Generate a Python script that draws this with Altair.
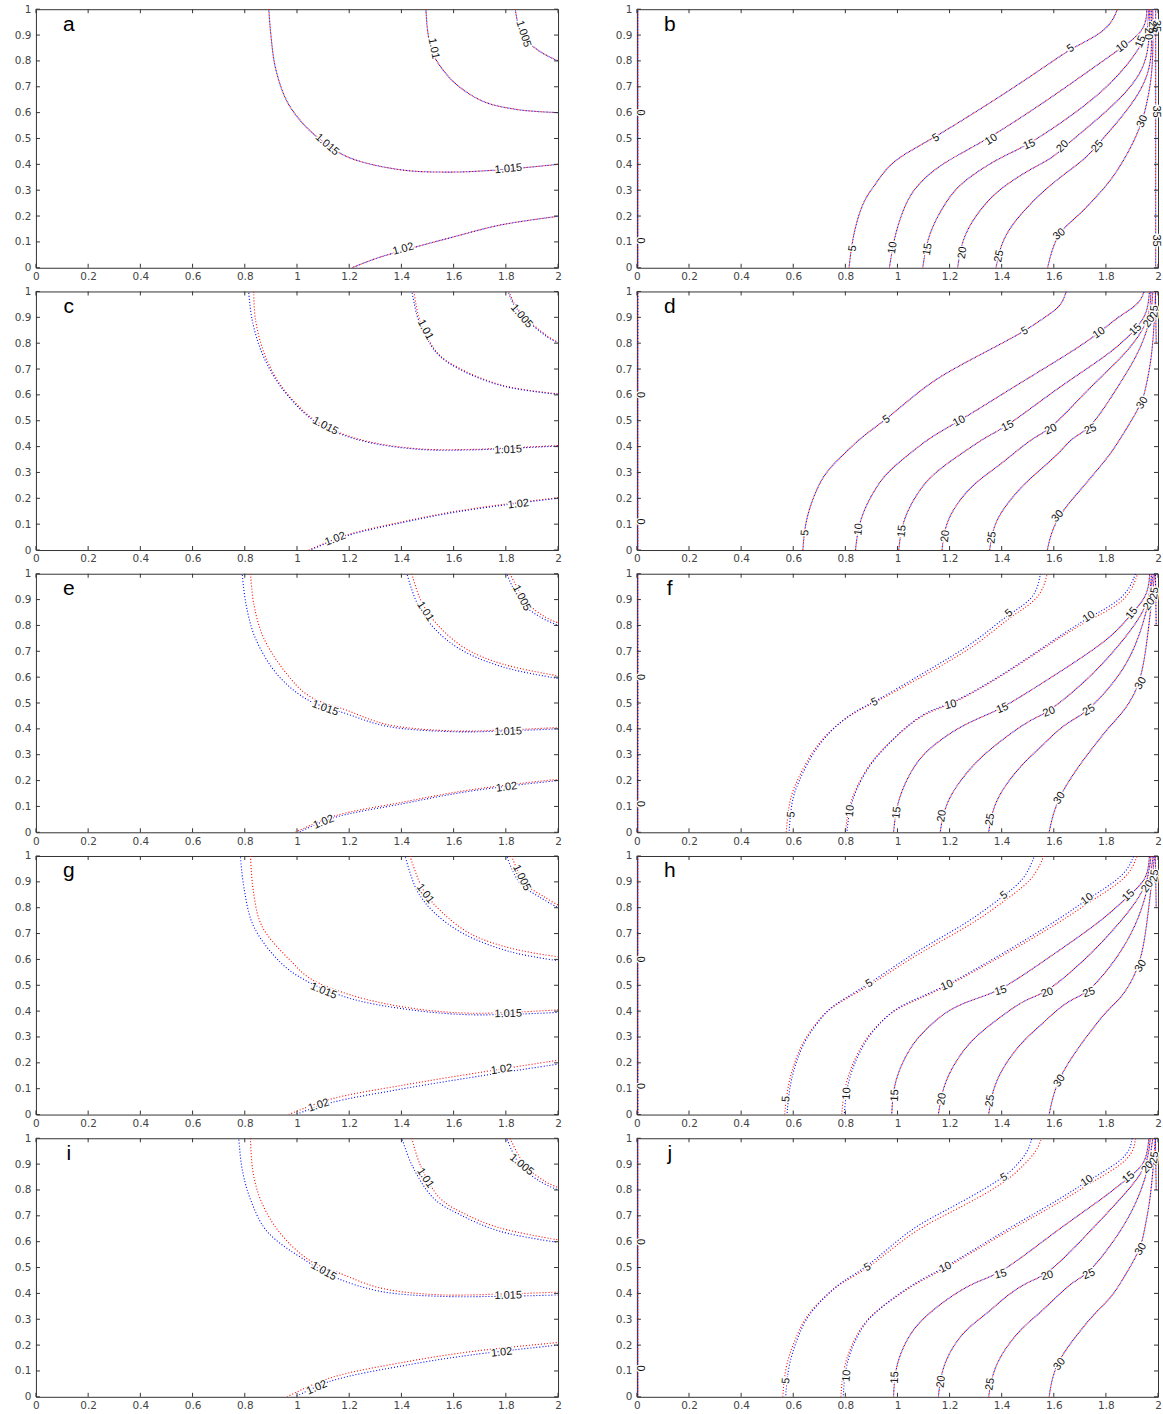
import math
import altair as alt
import pandas as pd

# ---------------------------------------------------------------------------
# Axis ticks shared by every panel
# ---------------------------------------------------------------------------
X_TICKS = [0, 0.2, 0.4, 0.6, 0.8, 1.0, 1.2, 1.4, 1.6, 1.8, 2.0]
Y_TICKS = [0, 0.1, 0.2, 0.3, 0.4, 0.5, 0.6, 0.7, 0.8, 0.9, 1.0]

# ---------------------------------------------------------------------------
# Left column: contour levels 1.005 ... 1.02  (points are (x, y))
# ---------------------------------------------------------------------------
a_blue = {
    "1.015": [(0.892, 1.0), (0.900, 0.90), (0.918, 0.771), (0.962, 0.643), (1.03, 0.55), (1.115, 0.476),
              (1.205, 0.424), (1.396, 0.379), (1.587, 0.370), (1.778, 0.379), (2.0, 0.40)],
    "1.01": [(1.494, 1.0), (1.500, 0.92), (1.517, 0.836), (1.555, 0.771), (1.613, 0.707), (1.714, 0.643),
             (1.842, 0.612), (2.0, 0.60)],
    "1.005": [(1.836, 1.0), (1.845, 0.95), (1.861, 0.90), (1.931, 0.836), (2.0, 0.80)],
    "1.02": [(1.211, 0.0), (1.30, 0.035), (1.396, 0.064), (1.587, 0.116), (1.778, 0.165), (2.0, 0.199)],
}
a_red = a_blue
a_labels = [("1.015", 1.115, 0.476), ("1.015", 1.81, 0.382), ("1.01", 1.523, 0.848),
            ("1.005", 1.867, 0.905), ("1.02", 1.407, 0.072)]

c_blue = {
    "1.015": [(0.815, 1.0), (0.828, 0.891), (0.866, 0.762), (0.936, 0.634), (1.057, 0.505), (1.153, 0.454),
              (1.280, 0.415), (1.472, 0.389), (1.663, 0.387), (1.790, 0.392), (2.0, 0.402)],
    "1.01": [(1.440, 1.0), (1.450, 0.95), (1.465, 0.891), (1.535, 0.762), (1.625, 0.698), (1.790, 0.634),
             (2.0, 0.602)],
    "1.005": [(1.809, 1.0), (1.830, 0.95), (1.880, 0.891), (1.956, 0.826), (2.0, 0.801)],
    "1.02": [(1.051, 0.0), (1.191, 0.055), (1.408, 0.107), (1.599, 0.145), (1.816, 0.177), (2.0, 0.20)],
}
c_red = {
    "1.015": [(0.834, 1.0), (0.841, 0.891), (0.874, 0.762), (0.940, 0.634), (1.060, 0.508), (1.155, 0.457),
              (1.280, 0.418), (1.472, 0.391), (1.663, 0.389), (1.790, 0.394), (2.0, 0.404)],
    "1.01": [(1.448, 1.0), (1.456, 0.95), (1.470, 0.891), (1.538, 0.762), (1.628, 0.700), (1.790, 0.636),
             (2.0, 0.604)],
    "1.005": [(1.812, 1.0), (1.834, 0.95), (1.884, 0.891), (1.958, 0.828), (2.0, 0.803)],
    "1.02": [(1.045, 0.0), (1.191, 0.058), (1.408, 0.110), (1.599, 0.148), (1.816, 0.180), (2.0, 0.202)],
}
c_labels = [("1.015", 1.108, 0.479), ("1.015", 1.809, 0.387), ("1.01", 1.491, 0.852),
            ("1.005", 1.860, 0.904), ("1.02", 1.147, 0.042), ("1.02", 1.848, 0.177)]

e_blue = {
    "1.015": [(0.790, 1.0), (0.805, 0.88), (0.841, 0.75), (0.924, 0.611), (1.038, 0.514), (1.191, 0.458),
              (1.344, 0.410), (1.599, 0.389), (1.80, 0.392), (2.0, 0.40)],
    "1.01": [(1.421, 1.0), (1.459, 0.889), (1.523, 0.792), (1.625, 0.708), (1.790, 0.639), (2.0, 0.595)],
    "1.005": [(1.803, 1.0), (1.860, 0.889), (1.931, 0.833), (2.0, 0.80)],
    "1.02": [(1.006, 0.0), (1.140, 0.056), (1.408, 0.111), (1.625, 0.153), (1.829, 0.181), (2.0, 0.20)],
}
e_red = {
    "1.015": [(0.822, 1.0), (0.835, 0.88), (0.873, 0.75), (0.962, 0.611), (1.045, 0.528), (1.191, 0.472),
              (1.344, 0.417), (1.599, 0.392), (1.80, 0.396), (2.0, 0.405)],
    "1.01": [(1.440, 1.0), (1.478, 0.889), (1.548, 0.792), (1.650, 0.708), (1.790, 0.650), (2.0, 0.605)],
    "1.005": [(1.816, 1.0), (1.880, 0.889), (1.950, 0.833), (2.0, 0.81)],
    "1.02": [(0.994, 0.0), (1.140, 0.062), (1.408, 0.117), (1.625, 0.158), (1.829, 0.186), (2.0, 0.205)],
}
e_labels = [("1.015", 1.108, 0.479), ("1.015", 1.809, 0.389), ("1.01", 1.491, 0.854),
            ("1.005", 1.860, 0.906), ("1.02", 1.102, 0.039), ("1.02", 1.803, 0.174)]

g_blue = {
    "1.015": [(0.783, 1.0), (0.798, 0.87), (0.834, 0.728), (0.936, 0.589), (1.032, 0.519), (1.204, 0.449),
              (1.421, 0.407), (1.663, 0.386), (2.0, 0.395)],
    "1.01": [(1.414, 1.0), (1.459, 0.868), (1.523, 0.784), (1.637, 0.700), (1.816, 0.630), (2.0, 0.595)],
    "1.005": [(1.803, 1.0), (1.854, 0.895), (1.931, 0.840), (2.0, 0.80)],
    "1.02": [(0.994, 0.0), (1.127, 0.045), (1.408, 0.100), (1.701, 0.149), (2.0, 0.195)],
}
g_red = {
    "1.015": [(0.822, 1.0), (0.832, 0.87), (0.866, 0.728), (0.981, 0.589), (1.051, 0.526), (1.204, 0.463),
              (1.421, 0.414), (1.663, 0.392), (2.0, 0.405)],
    "1.01": [(1.433, 1.0), (1.484, 0.868), (1.554, 0.784), (1.663, 0.700), (1.816, 0.644), (2.0, 0.61)],
    "1.005": [(1.822, 1.0), (1.873, 0.895), (1.950, 0.840), (2.0, 0.81)],
    "1.02": [(0.968, 0.0), (1.127, 0.059), (1.408, 0.114), (1.701, 0.163), (2.0, 0.21)],
}
g_labels = [("1.015", 1.102, 0.477), ("1.015", 1.809, 0.389), ("1.01", 1.491, 0.854),
            ("1.005", 1.860, 0.916), ("1.02", 1.083, 0.035), ("1.02", 1.784, 0.174)]

i_blue = {
    "1.015": [(0.777, 1.0), (0.790, 0.88), (0.822, 0.763), (0.885, 0.640), (1.038, 0.524), (1.153, 0.459),
              (1.319, 0.408), (1.535, 0.389), (1.80, 0.389), (2.0, 0.394)],
    "1.01": [(1.402, 1.0), (1.440, 0.897), (1.523, 0.768), (1.625, 0.704), (1.778, 0.640), (2.0, 0.597)],
    "1.005": [(1.803, 1.0), (1.854, 0.897), (1.931, 0.833), (2.0, 0.80)],
    "1.02": [(0.994, 0.0), (1.127, 0.060), (1.433, 0.125), (1.676, 0.163), (2.0, 0.20)],
}
i_red = {
    "1.015": [(0.822, 1.0), (0.830, 0.88), (0.860, 0.763), (0.930, 0.640), (1.045, 0.530), (1.178, 0.472),
              (1.319, 0.421), (1.535, 0.395), (1.80, 0.398), (2.0, 0.405)],
    "1.01": [(1.440, 1.0), (1.472, 0.897), (1.548, 0.768), (1.650, 0.704), (1.778, 0.653), (2.0, 0.607)],
    "1.005": [(1.816, 1.0), (1.873, 0.897), (1.950, 0.833), (2.0, 0.81)],
    "1.02": [(0.962, 0.0), (1.127, 0.073), (1.433, 0.138), (1.676, 0.176), (2.0, 0.21)],
}
i_labels = [("1.015", 1.102, 0.485), ("1.015", 1.809, 0.391), ("1.01", 1.491, 0.846),
            ("1.005", 1.860, 0.897), ("1.02", 1.076, 0.035), ("1.02", 1.784, 0.171)]

# ---------------------------------------------------------------------------
# Right column: contour levels 0 ... 35
# ---------------------------------------------------------------------------
b_blue = {
    "0": [(0.004, 0.0), (0.004, 1.0)],
    "5": [(0.814, 0.0), (0.829, 0.129), (0.867, 0.257), (0.906, 0.309), (0.957, 0.386), (1.02, 0.437),
          (1.138, 0.501), (1.365, 0.643), (1.557, 0.771), (1.665, 0.848), (1.774, 0.900), (1.825, 0.951),
          (1.844, 1.0)],
    "10": [(0.969, 0.0), (0.989, 0.129), (1.033, 0.257), (1.078, 0.322), (1.148, 0.386), (1.238, 0.440),
           (1.352, 0.501), (1.569, 0.643), (1.748, 0.771), (1.857, 0.848), (1.953, 0.919), (1.957, 1.0)],
    "15": [(1.097, 0.0), (1.116, 0.129), (1.186, 0.257), (1.238, 0.322), (1.327, 0.386), (1.416, 0.437),
           (1.506, 0.476), (1.748, 0.643), (1.875, 0.771), (1.940, 0.868), (1.962, 0.92), (1.963, 1.0)],
    "20": [(1.231, 0.0), (1.250, 0.129), (1.340, 0.257), (1.416, 0.322), (1.518, 0.386), (1.595, 0.424),
           (1.640, 0.469), (1.851, 0.643), (1.953, 0.771), (1.968, 0.90), (1.968, 1.0)],
    "25": [(1.378, 0.0), (1.404, 0.129), (1.518, 0.257), (1.589, 0.322), (1.672, 0.386), (1.723, 0.424),
           (1.768, 0.476), (1.914, 0.643), (1.975, 0.771), (1.975, 0.90), (1.974, 1.0)],
    "30": [(1.576, 0.0), (1.608, 0.129), (1.685, 0.193), (1.748, 0.257), (1.806, 0.322), (1.851, 0.386),
           (1.902, 0.476), (1.940, 0.566), (1.959, 0.643), (1.982, 0.771), (1.980, 1.0)],
    "35": [(1.991, 0.0), (1.991, 1.0)],
}
b_red = b_blue
b_labels = [("0", 0.012, 0.60), ("0", 0.012, 0.105),
            ("5", 0.829, 0.075), ("10", 0.982, 0.077), ("15", 1.116, 0.071), ("20", 1.250, 0.058),
            ("25", 1.391, 0.045), ("30", 1.621, 0.129),
            ("5", 1.148, 0.501), ("10", 1.360, 0.495), ("15", 1.506, 0.476), ("20", 1.634, 0.469),
            ("25", 1.768, 0.469), ("30", 1.940, 0.566),
            ("5", 1.665, 0.848), ("10", 1.863, 0.855), ("15", 1.934, 0.874), ("20", 1.962, 0.905),
            ("25", 1.977, 0.93), ("35", 1.991, 0.935), ("35", 1.991, 0.604), ("35", 1.991, 0.105)]

d_blue = {
    "0": [(0.004, 0.0), (0.004, 1.0)],
    "5": [(0.637, 0.0), (0.646, 0.118), (0.693, 0.247), (0.733, 0.311), (0.799, 0.376), (0.865, 0.440),
          (0.958, 0.505), (1.104, 0.633), (1.210, 0.698), (1.330, 0.762), (1.489, 0.846), (1.569, 0.903),
          (1.628, 0.942), (1.648, 1.0)],
    "10": [(0.839, 0.0), (0.852, 0.118), (0.918, 0.247), (0.971, 0.311), (1.051, 0.376), (1.131, 0.440),
           (1.237, 0.498), (1.449, 0.633), (1.662, 0.762), (1.774, 0.839), (1.847, 0.903), (1.927, 0.949),
           (1.947, 1.0)],
    "15": [(1.005, 0.0), (1.018, 0.118), (1.091, 0.247), (1.157, 0.311), (1.250, 0.376), (1.343, 0.440),
           (1.423, 0.479), (1.622, 0.633), (1.821, 0.762), (1.914, 0.852), (1.960, 0.916), (1.967, 1.0)],
    "20": [(1.171, 0.0), (1.184, 0.118), (1.277, 0.247), (1.370, 0.311), (1.449, 0.376), (1.529, 0.440),
           (1.589, 0.466), (1.741, 0.633), (1.881, 0.762), (1.967, 0.884), (1.973, 1.0)],
    "25": [(1.354, 0.0), (1.370, 0.118), (1.476, 0.247), (1.549, 0.311), (1.622, 0.376), (1.675, 0.440),
           (1.741, 0.466), (1.847, 0.633), (1.927, 0.762), (1.973, 0.891), (1.980, 1.0)],
    "30": [(1.575, 0.0), (1.602, 0.118), (1.715, 0.247), (1.768, 0.311), (1.821, 0.376), (1.861, 0.440),
           (1.940, 0.569), (1.954, 0.633), (1.980, 0.762), (1.991, 1.0)],
    "35": [(1.993, 0.80), (1.990, 1.0)],
}
d_red = d_blue
d_labels = [("0", 0.012, 0.60), ("0", 0.012, 0.11),
            ("5", 0.646, 0.067), ("10", 0.852, 0.080), ("15", 1.018, 0.073), ("20", 1.184, 0.054),
            ("25", 1.363, 0.048), ("30", 1.615, 0.131),
            ("5", 0.958, 0.505), ("10", 1.237, 0.498), ("15", 1.423, 0.479), ("20", 1.589, 0.466),
            ("25", 1.741, 0.466), ("30", 1.940, 0.569),
            ("5", 1.489, 0.846), ("10", 1.774, 0.839), ("15", 1.914, 0.852), ("20", 1.967, 0.884),
            ("25", 1.987, 0.923)]

f_blue = {
    "0": [(0.004, 0.0), (0.004, 1.0)],
    "5": [(0.584, 0.0), (0.593, 0.125), (0.620, 0.194), (0.653, 0.264), (0.693, 0.333), (0.753, 0.403),
          (0.839, 0.472), (0.912, 0.503), (1.091, 0.611), (1.210, 0.681), (1.316, 0.75), (1.429, 0.847),
          (1.529, 0.903), (1.549, 1.0)],
    "10": [(0.806, 0.0), (0.819, 0.125), (0.892, 0.264), (0.958, 0.333), (1.025, 0.403), (1.117, 0.472),
           (1.204, 0.493), (1.409, 0.611), (1.609, 0.75), (1.735, 0.833), (1.874, 0.903), (1.914, 1.0)],
    "15": [(0.985, 0.0), (0.998, 0.125), (1.064, 0.264), (1.131, 0.333), (1.230, 0.403), (1.317, 0.444),
           (1.403, 0.479), (1.609, 0.611), (1.821, 0.75), (1.900, 0.847), (1.962, 0.917), (1.968, 1.0)],
    "20": [(1.164, 0.0), (1.184, 0.125), (1.290, 0.264), (1.370, 0.333), (1.462, 0.403), (1.529, 0.444),
           (1.582, 0.465), (1.754, 0.611), (1.874, 0.75), (1.967, 0.882), (1.975, 1.0)],
    "25": [(1.350, 0.0), (1.370, 0.125), (1.476, 0.264), (1.555, 0.333), (1.622, 0.403), (1.688, 0.444),
           (1.735, 0.472), (1.861, 0.611), (1.927, 0.75), (1.965, 0.889), (1.982, 1.0)],
    "30": [(1.582, 0.0), (1.609, 0.125), (1.701, 0.264), (1.754, 0.333), (1.808, 0.403), (1.874, 0.472),
           (1.934, 0.576), (1.960, 0.75), (1.987, 1.0)],
    "35": [(1.993, 0.80), (1.990, 1.0)],
}
f_red = dict(f_blue)
f_red["5"] = [(0.573, 0.0), (0.584, 0.125), (0.612, 0.194), (0.646, 0.264), (0.688, 0.333), (0.750, 0.403),
              (0.839, 0.468), (0.912, 0.500), (1.100, 0.605), (1.222, 0.675), (1.330, 0.745), (1.440, 0.840),
              (1.549, 0.903), (1.575, 1.0)]
f_red["10"] = [(0.800, 0.0), (0.815, 0.125), (0.890, 0.264), (0.955, 0.333), (1.025, 0.400), (1.117, 0.468),
               (1.204, 0.490), (1.409, 0.608), (1.609, 0.745), (1.740, 0.825), (1.885, 0.895), (1.922, 1.0)]
f_labels = [("0", 0.012, 0.60), ("0", 0.012, 0.11),
            ("5", 0.593, 0.069), ("10", 0.819, 0.083), ("15", 0.998, 0.076), ("20", 1.171, 0.0625),
            ("25", 1.356, 0.049), ("30", 1.622, 0.132),
            ("5", 0.912, 0.503), ("10", 1.204, 0.493), ("15", 1.403, 0.479), ("20", 1.582, 0.465),
            ("25", 1.735, 0.472), ("30", 1.934, 0.576),
            ("5", 1.429, 0.847), ("10", 1.735, 0.833), ("15", 1.900, 0.847), ("20", 1.967, 0.882),
            ("25", 1.987, 0.924)]

h_blue = {
    "0": [(0.004, 0.0), (0.004, 1.0)],
    "5": [(0.576, 0.0), (0.587, 0.130), (0.633, 0.269), (0.680, 0.338), (0.733, 0.408), (0.799, 0.450),
          (0.892, 0.506), (1.051, 0.617), (1.171, 0.687), (1.290, 0.756), (1.409, 0.847), (1.489, 0.909),
          (1.526, 1.0)],
    "10": [(0.796, 0.0), (0.806, 0.130), (0.865, 0.269), (0.918, 0.338), (0.985, 0.408), (1.078, 0.450),
           (1.190, 0.499), (1.396, 0.617), (1.622, 0.756), (1.728, 0.833), (1.874, 0.923), (1.907, 1.0)],
    "15": [(0.978, 0.0), (0.985, 0.130), (1.051, 0.269), (1.117, 0.338), (1.197, 0.408), (1.303, 0.450),
           (1.396, 0.478), (1.595, 0.617), (1.794, 0.756), (1.887, 0.847), (1.960, 0.909), (1.967, 1.0)],
    "20": [(1.157, 0.0), (1.177, 0.130), (1.263, 0.269), (1.343, 0.338), (1.436, 0.408), (1.502, 0.450),
           (1.575, 0.471), (1.741, 0.617), (1.867, 0.756), (1.960, 0.882), (1.973, 1.0)],
    "25": [(1.350, 0.0), (1.370, 0.130), (1.463, 0.269), (1.542, 0.338), (1.615, 0.408), (1.675, 0.450),
           (1.735, 0.471), (1.854, 0.617), (1.927, 0.756), (1.965, 0.89), (1.982, 1.0)],
    "30": [(1.582, 0.0), (1.609, 0.130), (1.701, 0.269), (1.754, 0.338), (1.808, 0.408), (1.861, 0.450),
           (1.934, 0.575), (1.960, 0.756), (1.987, 1.0)],
    "35": [(1.993, 0.80), (1.990, 1.0)],
}
h_red = dict(h_blue)
h_red["5"] = [(0.567, 0.0), (0.580, 0.130), (0.628, 0.269), (0.676, 0.338), (0.731, 0.405), (0.799, 0.446),
              (0.895, 0.500), (1.071, 0.617), (1.197, 0.687), (1.317, 0.756), (1.425, 0.838), (1.522, 0.909),
              (1.562, 1.0)]
h_red["10"] = [(0.786, 0.0), (0.798, 0.130), (0.860, 0.269), (0.914, 0.338), (0.985, 0.404), (1.078, 0.446),
               (1.190, 0.495), (1.400, 0.612), (1.635, 0.750), (1.740, 0.825), (1.887, 0.915), (1.920, 1.0)]
h_labels = [("0", 0.012, 0.60), ("0", 0.012, 0.11),
            ("5", 0.573, 0.060), ("10", 0.806, 0.081), ("15", 0.991, 0.074), ("20", 1.171, 0.060),
            ("25", 1.356, 0.053), ("30", 1.622, 0.130),
            ("5", 0.892, 0.506), ("10", 1.190, 0.499), ("15", 1.396, 0.478), ("20", 1.575, 0.471),
            ("25", 1.735, 0.471), ("30", 1.934, 0.575),
            ("5", 1.409, 0.847), ("10", 1.728, 0.833), ("15", 1.887, 0.847), ("20", 1.960, 0.882),
            ("25", 1.987, 0.924)]

j_blue = {
    "0": [(0.004, 0.0), (0.004, 1.0)],
    "5": [(0.571, 0.0), (0.580, 0.126), (0.626, 0.255), (0.660, 0.320), (0.719, 0.384), (0.786, 0.448),
          (0.885, 0.50), (1.038, 0.642), (1.157, 0.706), (1.277, 0.771), (1.409, 0.848), (1.463, 0.90),
          (1.502, 0.951), (1.516, 1.0)],
    "10": [(0.792, 0.0), (0.799, 0.126), (0.852, 0.255), (0.905, 0.320), (0.985, 0.384), (1.078, 0.448),
           (1.184, 0.50), (1.409, 0.642), (1.635, 0.771), (1.728, 0.835), (1.887, 0.925), (1.901, 1.0)],
    "15": [(0.985, 0.0), (0.991, 0.126), (1.051, 0.255), (1.117, 0.320), (1.197, 0.384), (1.303, 0.448),
           (1.396, 0.474), (1.608, 0.642), (1.794, 0.771), (1.887, 0.848), (1.954, 0.90), (1.965, 1.0)],
    "20": [(1.157, 0.0), (1.171, 0.126), (1.250, 0.255), (1.343, 0.320), (1.409, 0.384), (1.502, 0.448),
           (1.575, 0.468), (1.741, 0.642), (1.861, 0.771), (1.960, 0.887), (1.970, 1.0)],
    "25": [(1.350, 0.0), (1.370, 0.126), (1.463, 0.255), (1.542, 0.320), (1.608, 0.384), (1.675, 0.448),
           (1.735, 0.474), (1.861, 0.642), (1.927, 0.771), (1.965, 0.89), (1.980, 1.0)],
    "30": [(1.582, 0.0), (1.602, 0.126), (1.701, 0.255), (1.754, 0.320), (1.821, 0.384), (1.861, 0.448),
           (1.934, 0.571), (1.947, 0.642), (1.973, 0.771), (1.990, 1.0)],
    "35": [(1.993, 0.80), (1.990, 1.0)],
}
j_red = dict(j_blue)
j_red["5"] = [(0.560, 0.0), (0.569, 0.126), (0.620, 0.255), (0.655, 0.320), (0.716, 0.384), (0.786, 0.444),
              (0.890, 0.495), (1.051, 0.635), (1.177, 0.700), (1.303, 0.765), (1.425, 0.838), (1.489, 0.90),
              (1.535, 0.951), (1.553, 1.0)]
j_red["10"] = [(0.783, 0.0), (0.792, 0.126), (0.848, 0.255), (0.902, 0.320), (0.985, 0.380), (1.078, 0.444),
               (1.184, 0.495), (1.412, 0.636), (1.648, 0.765), (1.740, 0.828), (1.901, 0.918), (1.914, 1.0)]
j_labels = [("0", 0.012, 0.60), ("0", 0.012, 0.11),
            ("5", 0.573, 0.062), ("10", 0.806, 0.081), ("15", 0.991, 0.075), ("20", 1.168, 0.059),
            ("25", 1.356, 0.049), ("30", 1.622, 0.126),
            ("5", 0.885, 0.50), ("10", 1.184, 0.50), ("15", 1.396, 0.474), ("20", 1.575, 0.468),
            ("25", 1.735, 0.474), ("30", 1.934, 0.571),
            ("5", 1.409, 0.848), ("10", 1.728, 0.835), ("15", 1.887, 0.848), ("20", 1.960, 0.887),
            ("25", 1.987, 0.925)]

# panel tag placement, in data units
TAG_X, TAG_Y = 0.126, 0.94

# ---------------------------------------------------------------------------
# Drawing
# ---------------------------------------------------------------------------
W_LEFT, W_RIGHT, H = 523, 522, 259
FONT = "DejaVu Sans"
LABEL_FONT = "Liberation Sans"
FRAME = "#333333"

XS = alt.Scale(domain=[0, 2], nice=False, zero=False)
YS = alt.Scale(domain=[0, 1], nice=False, zero=False)
X_AXIS = alt.Axis(values=X_TICKS, format="~g", title=None, ticks=False, domain=False, grid=False,
                  labelPadding=4, labelFontSize=10.5, labelFont=FONT, labelColor="#444444",
                  labelFlush=False, labelOverlap=False)
Y_AXIS = alt.Axis(values=Y_TICKS, format="~g", title=None, ticks=False, domain=False, grid=False,
                  labelPadding=5, labelFontSize=10.5, labelFont=FONT, labelColor="#444444",
                  labelFlush=False, labelOverlap=False)


def ex(field):
    return alt.X(field, scale=XS, axis=X_AXIS)


def ey(field):
    return alt.Y(field, scale=YS, axis=Y_AXIS)


def label_angle(curve, lx, ly, width, height):
    """Direction (degrees, clockwise) of the curve segment nearest to a label."""
    best, best_d = 0.0, float("inf")
    px, py = lx / 2 * width, (1 - ly) * height
    for (x0, y0), (x1, y1) in zip(curve[:-1], curve[1:]):
        ax, ay = x0 / 2 * width, (1 - y0) * height
        bx, by = x1 / 2 * width, (1 - y1) * height
        dx, dy = bx - ax, by - ay
        seg = dx * dx + dy * dy
        t = 0.0 if seg == 0 else max(0.0, min(1.0, ((px - ax) * dx + (py - ay) * dy) / seg))
        cx, cy = ax + t * dx, ay + t * dy
        d = (px - cx) ** 2 + (py - cy) ** 2
        if d < best_d:
            best_d = d
            ang = math.degrees(math.atan2(dy, dx))
            if ang > 90:
                ang -= 180
            if ang <= -90:
                ang += 180
            best = ang
    return best % 360


def curves_frame(curves):
    rows = []
    for level, pts in curves.items():
        for k, (x, y) in enumerate(pts):
            rows.append({"level": level, "k": k, "x": x, "y": y})
    return pd.DataFrame(rows)


def panel(tag, blue, red, labels, width, interpolate):
    line_style = dict(strokeWidth=1.1, strokeDash=[1, 2], clip=True, interpolate=interpolate)
    red_line = alt.Chart(curves_frame(red)).mark_line(stroke="#ff0000", **line_style).encode(
        x=ex("x:Q"), y=ey("y:Q"), detail="level:N", order="k:Q")
    blue_line = alt.Chart(curves_frame(blue)).mark_line(
        stroke="#0000ff", strokeDashOffset=1.5, **line_style).encode(
        x=ex("x:Q"), y=ey("y:Q"), detail="level:N", order="k:Q")

    lab = pd.DataFrame(
        [{"text": t, "x": x, "y": y, "angle": label_angle(blue[t], x, y, width, H)} for t, x, y in labels]
    )
    halo = alt.Chart(lab).mark_text(
        font=LABEL_FONT, fontSize=11, fill="white", stroke="white", strokeWidth=2.5
    ).encode(x=ex("x:Q"), y=ey("y:Q"), text="text:N", angle=alt.Angle("angle:Q", scale=None))
    text = alt.Chart(lab).mark_text(font=LABEL_FONT, fontSize=11, color="#111111").encode(
        x=ex("x:Q"), y=ey("y:Q"), text="text:N", angle=alt.Angle("angle:Q", scale=None))

    tag_mark = alt.Chart(pd.DataFrame({"t": [tag], "x": [TAG_X], "y": [TAG_Y]})).mark_text(
        font=LABEL_FONT, fontSize=21, color="black"
    ).encode(x=ex("x:Q"), y=ey("y:Q"), text="t:N")

    xt = pd.DataFrame({"v": X_TICKS})
    yt = pd.DataFrame({"v": Y_TICKS})
    tick = dict(color=FRAME, strokeWidth=1)
    ticks = [
        alt.Chart(xt).mark_rule(**tick).encode(x=ex("v:Q"), y=alt.value(H), y2=alt.value(H - 4)),
        alt.Chart(xt).mark_rule(**tick).encode(x=ex("v:Q"), y=alt.value(0), y2=alt.value(4)),
        alt.Chart(yt).mark_rule(**tick).encode(y=ey("v:Q"), x=alt.value(0), x2=alt.value(4)),
        alt.Chart(yt).mark_rule(**tick).encode(y=ey("v:Q"), x=alt.value(width - 4), x2=alt.value(width)),
    ]
    return alt.layer(red_line, blue_line, *ticks, halo, text, tag_mark).properties(width=width, height=H)


def left(tag, blue, red, labels):
    return panel(tag, blue, red, labels, W_LEFT, "catmull-rom")


def right(tag, blue, red, labels):
    return panel(tag, blue, red, labels, W_RIGHT, "basis")


panels = [
    left("a", a_blue, a_red, a_labels), right("b", b_blue, b_red, b_labels),
    left("c", c_blue, c_red, c_labels), right("d", d_blue, d_red, d_labels),
    left("e", e_blue, e_red, e_labels), right("f", f_blue, f_red, f_labels),
    left("g", g_blue, g_red, g_labels), right("h", h_blue, h_red, h_labels),
    left("i", i_blue, i_red, i_labels), right("j", j_blue, j_red, j_labels),
]

chart = alt.concat(
    *panels, columns=2, spacing={"row": 23.75, "column": 79}, bounds="flush"
).configure_view(
    stroke=FRAME, strokeWidth=1
).properties(
    padding={"left": 13, "top": 2, "right": 0, "bottom": 0},
    background="white",
)

chart.save("out.html", embed_options={"renderer": "svg", "actions": False})
